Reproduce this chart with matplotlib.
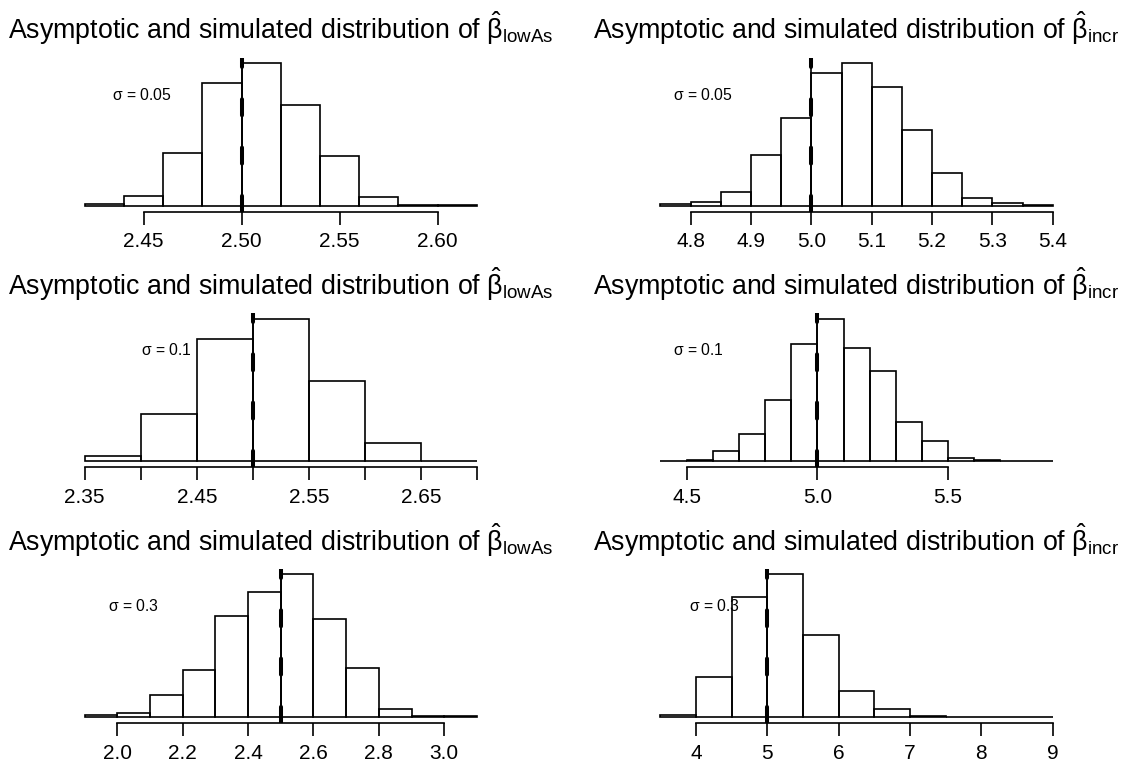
import numpy as np
import matplotlib
matplotlib.use('Agg')
import matplotlib.pyplot as plt

plt.rcParams['font.family'] = ['Liberation Sans', 'DejaVu Sans']
plt.rcParams['mathtext.fontset'] = 'custom'
plt.rcParams['mathtext.rm'] = 'Liberation Sans'
plt.rcParams['mathtext.it'] = 'Liberation Sans:italic'
plt.rcParams['mathtext.bf'] = 'Liberation Sans:bold'

sigma_labels = ['0.05', '0.1', '0.3']

# left column: beta_lowAs (true value 2.5)
low_true = 2.5
low_start = [2.42, 2.35, 1.9]
low_width = [0.02, 0.05, 0.1]
low_counts = [
    [4, 19, 108, 251, 291, 205, 102, 18, 1, 1],
    [14, 113, 293, 341, 192, 45, 2],
    [4, 7, 36, 78, 168, 208, 237, 163, 81, 14, 2, 1],
]
low_ticks = [
    [2.45, 2.50, 2.55, 2.60],
    [2.35, 2.40, 2.45, 2.50, 2.55, 2.60, 2.65, 2.70],
    [2.0, 2.2, 2.4, 2.6, 2.8, 3.0],
]
low_ticklabels = [
    ['2.45', '2.50', '2.55', '2.60'],
    ['2.35', '', '2.45', '', '2.55', '', '2.65', ''],
    ['2.0', '2.2', '2.4', '2.6', '2.8', '3.0'],
]
low_sigma_x = [2.449, 2.423, 2.049]

# right column: beta_incr (true value 5)
incr_true = 5.0
incr_start = [4.75, 4.4, 3.5]
incr_width = [0.05, 0.1, 0.5]
incr_counts = [
    [2, 6, 21, 76, 131, 197, 212, 176, 112, 49, 11, 4, 1],
    [1, 3, 16, 43, 97, 186, 226, 179, 143, 62, 32, 6, 3, 1, 1],
    [5, 94, 285, 338, 194, 61, 20, 2, 0, 0, 1],
]
incr_ticks = [
    [4.8, 4.9, 5.0, 5.1, 5.2, 5.3, 5.4],
    [4.5, 5.0, 5.5],
    [4, 5, 6, 7, 8, 9],
]
incr_ticklabels = [
    ['4.8', '4.9', '5.0', '5.1', '5.2', '5.3', '5.4'],
    ['4.5', '5.0', '5.5'],
    ['4', '5', '6', '7', '8', '9'],
]
incr_sigma_x = [4.821, 4.545, 4.25]

W, H = 1128, 774
fig = plt.figure(figsize=(W / 100, H / 100), dpi=100)

col_left = [69.0, 644.8]
col_w = 423.6
row_top = [57.5, 313.1, 568.7]
row_h = 154.0

titles = [r'Asymptotic and simulated distribution of $\hat{\mathrm{\beta}}_{\mathrm{lowAs}}$',
          r'Asymptotic and simulated distribution of $\hat{\mathrm{\beta}}_{\mathrm{incr}}$']


def draw_panel(ax, start, width, counts, true_val, ticks, labels, sx, slab, title):
    n = len(counts)
    edges = start + width * np.arange(n + 1)
    ax.bar(edges[:-1], counts, width=width, align='edge', fill=False,
           edgecolor='black', linewidth=1.2)
    m = max(counts)
    lo, hi = edges[0], edges[-1]
    ax.set_xlim(lo - 0.04 * (hi - lo), hi + 0.04 * (hi - lo))
    ylo, yhi = -0.04 * m, 1.04 * m
    ax.set_ylim(ylo, yhi)
    ax.plot([true_val, true_val], [ylo, yhi], color='black', lw=1.2)
    ax.plot([true_val, true_val], [ylo, yhi], color='black', lw=2.9,
            linestyle=(0, (4, 8)), dash_capstyle='round')
    ax.text(sx, 0.78 * m, r'$\mathrm{\sigma}$ = ' + slab, ha='center', va='center',
            fontsize=11.3)
    for s in ['left', 'top', 'right']:
        ax.spines[s].set_visible(False)
    ax.spines['bottom'].set_linewidth(1.2)
    ax.spines['bottom'].set_bounds(ticks[0], ticks[-1])
    ax.set_yticks([])
    ax.set_xticks(ticks)
    ax.set_xticklabels(labels)
    ax.tick_params(axis='x', direction='out', length=9, width=1.2,
                   labelsize=15, pad=6)
    ax.set_title(title, fontsize=19.3, pad=13)


for r in range(3):
    for c in range(2):
        x0 = col_left[c] / W
        y0 = (H - row_top[r] - row_h) / H
        ax = fig.add_axes([x0, y0, col_w / W, row_h / H])
        ax.patch.set_visible(False)
        if c == 0:
            draw_panel(ax, low_start[r], low_width[r], low_counts[r], low_true,
                       low_ticks[r], low_ticklabels[r], low_sigma_x[r],
                       sigma_labels[r], titles[0])
        else:
            draw_panel(ax, incr_start[r], incr_width[r], incr_counts[r], incr_true,
                       incr_ticks[r], incr_ticklabels[r], incr_sigma_x[r],
                       sigma_labels[r], titles[1])

fig.savefig('out.png', dpi=100)
